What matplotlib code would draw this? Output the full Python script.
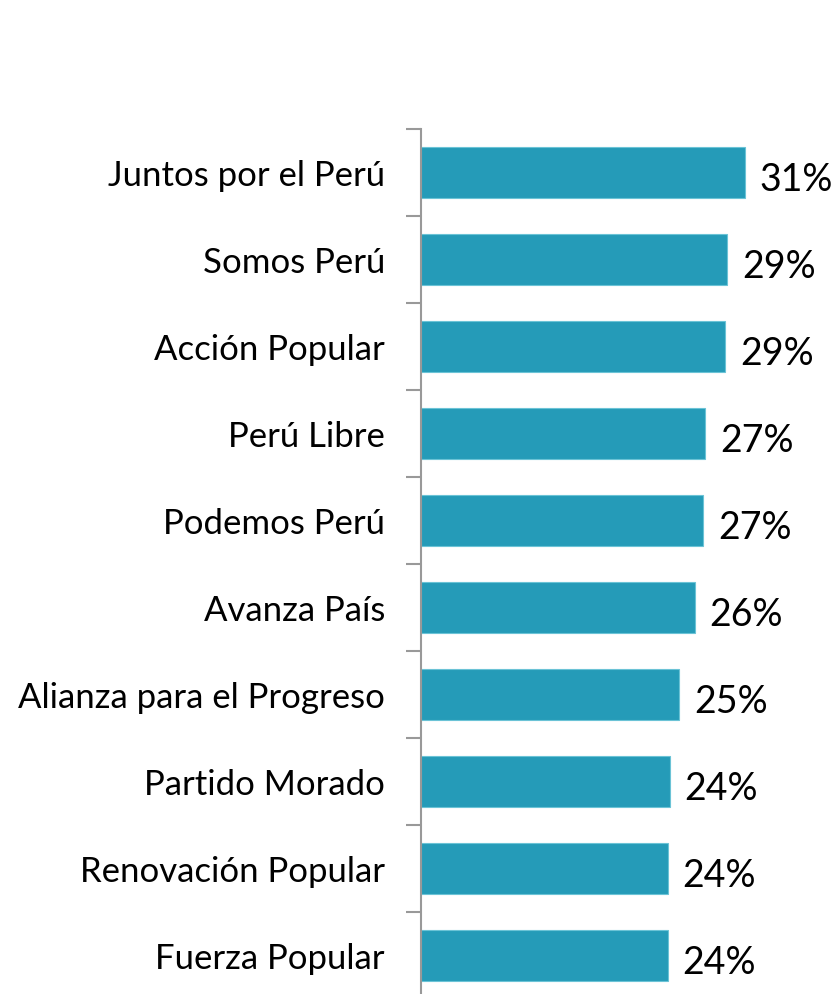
import matplotlib
matplotlib.use("Agg")
from matplotlib import pyplot as plt

partidos = ["Juntos por el Perú", "Somos Perú", "Acción Popular", "Perú Libre",
            "Podemos Perú", "Avanza País", "Alianza para el Progreso",
            "Partido Morado", "Renovación Popular", "Fuerza Popular"]
valores = [31.0, 29.3, 29.1, 27.2, 27.0, 26.2, 24.7, 23.8, 23.6, 23.6]
etiquetas = ["31%", "29%", "29%", "27%", "27%", "26%", "25%", "24%", "24%", "24%"]

plt.rcParams['font.family'] = ['Lato', 'DejaVu Sans']

fig = plt.figure(figsize=(8.38, 9.95), dpi=100)
ax = fig.add_axes([421 / 838, -5 / 995, 417 / 838, 870 / 995])

y = list(range(len(partidos)))
ax.barh(y, valores, height=0.58, color='#259BB8', edgecolor='#6BC3D6', linewidth=0.8)

for i, (v, t) in enumerate(zip(valores, etiquetas)):
    ax.text(v + 1.4, i + 0.08, t, va='center', ha='left', fontsize=27, color='black')

ax.set_xlim(0, 39.9)
ax.set_ylim(len(partidos) - 0.5, -0.5)
ax.set_yticks(y)
ax.set_yticklabels(partidos, fontsize=25)
ax.set_yticks([i - 0.5 for i in range(len(partidos) + 1)], minor=True)
ax.tick_params(axis='y', which='major', length=0, pad=26)
ax.tick_params(axis='y', which='minor', length=11, width=1.5, color='#999999')
ax.set_xticks([])
for s in ['top', 'right', 'bottom']:
    ax.spines[s].set_visible(False)
ax.spines['left'].set_color('#999999')
ax.spines['left'].set_linewidth(1.5)

fig.savefig('out.png', dpi=100)
